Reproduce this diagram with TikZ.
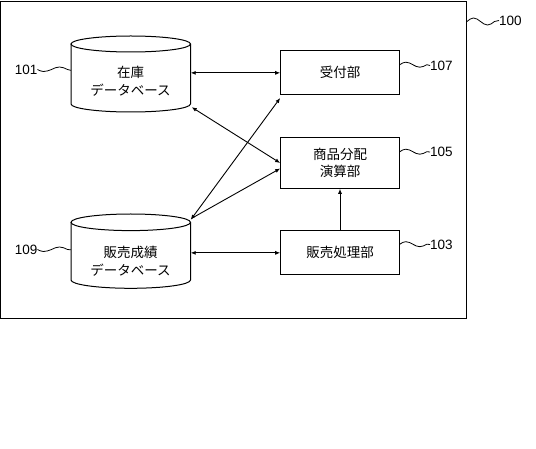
\documentclass[tikz,border=0pt]{standalone}
\usepackage{fontspec}
\newfontfamily\jp{Noto Sans CJK JP}
\newfontfamily\numfont{Liberation Sans}
\usetikzlibrary{arrows.meta}
\begin{document}
\begin{tikzpicture}[x=1pt,y=-1pt,
  >={Latex[length=5pt,width=4pt]},
  jtext/.style={font=\jp\fontsize{13.5}{17.5}\selectfont, align=center, inner sep=0pt},
  block/.style={draw, line width=1pt, minimum width=118.6pt, inner sep=0pt, jtext},
  hold/.style={minimum width=119.5pt, inner sep=0pt},
  lbl/.style={font=\numfont\fontsize{13.5}{15}\selectfont, inner sep=0pt},
  conn/.style={line width=0.9pt},
  lead/.style={line width=0.8pt}]
\useasboundingbox (0,0) rectangle (536,449);

% outer system frame
\node[draw, line width=1pt, minimum width=465.8pt, minimum height=316.8pt, inner sep=0pt] (sys) at (233.6,159.9) {};

% cylinder 101
\node[hold, minimum height=76pt] (c101) at (130.75,74) {};
\draw[line width=1pt] (71,44) -- (71,104) arc[start angle=180, end angle=0, x radius=59.75, y radius=8] -- (190.5,44);
\draw[line width=1pt] (130.75,44) ellipse [x radius=59.75, y radius=8];
\node[jtext] (t101) at (130.5,81) {在庫\\データベース};

% cylinder 109
\node[hold, minimum height=74.3pt] (c109) at (130.75,251.15) {};
\draw[line width=1pt] (71,222.3) -- (71,280) arc[start angle=180, end angle=0, x radius=59.75, y radius=8.3] -- (190.5,222.3);
\draw[line width=1pt] (130.75,222.3) ellipse [x radius=59.75, y radius=8.3];
\node[jtext] (t109) at (130.5,261) {販売成績\\データベース};

% blocks
\node[block, minimum height=44.3pt] (b107) at (340,72.85) {受付部};
\node[block, minimum height=50.6pt] (b105) at (340,163) {商品分配\\演算部};
\node[block, minimum height=44.3pt] (b103) at (340,252.85) {販売処理部};

% connectors
\draw[conn,<->] (c101.east |- b107.west) -- (b107.west);
\draw[conn,<->] ([shift={(1,-5)}]c101.south east) -- (b105.west);
\draw[conn,<->] ([shift={(0,6)}]c109.north east) -- ([shift={(0,2.5)}]b107.south west);
\draw[conn,->] ([shift={(1,4.5)}]c109.north east) -- ([shift={(0,5.5)}]b105.west);
\draw[conn,<->] (b103.west -| c109.east) -- (b103.west);
\draw[conn,->] (b103.north) -- (b105.south);

% reference labels
\node[lbl, anchor=west] (l100) at (499,20.5) {100};
\node[lbl, anchor=west] (l107) at (430,65.5) {107};
\node[lbl, anchor=west] (l105) at (430,152) {105};
\node[lbl, anchor=west] (l103) at (430,244.5) {103};
\node[lbl, anchor=east] (l101) at (37.5,69.5) {101};
\node[lbl, anchor=east] (l109) at (37.5,249.5) {109};

\draw[lead] ([shift={(0,20.5)}]sys.north east) sin ++(6.5,-3.5) cos ++(7,3.5) sin ++(7,3.5) cos ++(7,-3.5) -- (l100.west);
\draw[lead] ([shift={(0,14.5)}]b107.north east) sin ++(6,-2.5) cos ++(7,2.5) sin ++(7,2.5) cos ++(7,-2.5) -- (l107.west);
\draw[lead] ([shift={(0,14.5)}]b105.north east) sin ++(6,-2.5) cos ++(7,2.5) sin ++(7,2.5) cos ++(7,-2.5) -- (l105.west);
\draw[lead] ([shift={(0,14)}]b103.north east) sin ++(6,-2.5) cos ++(7,2.5) sin ++(7,2.5) cos ++(7,-2.5) -- (l103.west);
\draw[lead] (l101.east) sin ++(6,2) cos ++(8,-2) sin ++(8,-2.5) cos ++(8,2.5) -- ([shift={(0,34.5)}]c101.north west);
\draw[lead] (l109.east) sin ++(6,2) cos ++(8,-2) sin ++(8,-2.5) cos ++(8,2.5) -- ([shift={(0,36)}]c109.north west);
\end{tikzpicture}
\end{document}
